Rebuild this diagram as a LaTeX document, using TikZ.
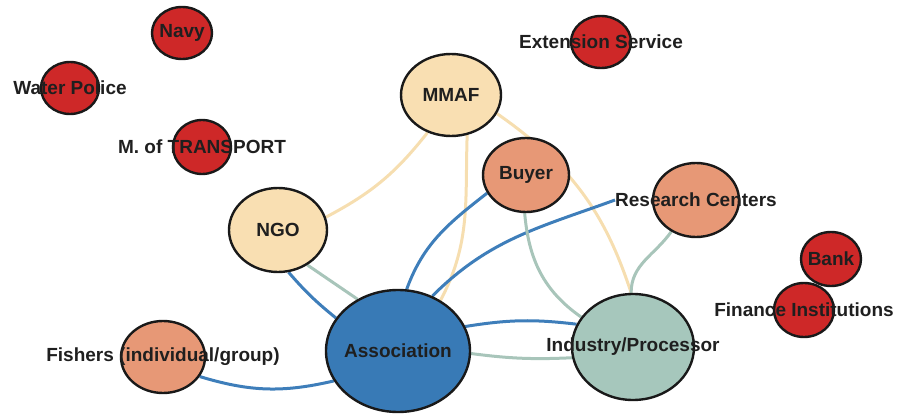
\documentclass[tikz,border=0pt]{standalone}
\usepackage{fontspec}
\setmainfont{Liberation Sans}
\usetikzlibrary{shapes.geometric,backgrounds}
\definecolor{nred}{RGB}{206,40,40}
\definecolor{nbeige}{RGB}{249,223,178}
\definecolor{nsalmon}{RGB}{231,152,118}
\definecolor{nblue}{RGB}{56,122,182}
\definecolor{ngreen}{RGB}{166,199,188}
\definecolor{eblue}{RGB}{62,126,186}
\definecolor{ebeige}{RGB}{246,222,176}
\definecolor{egreen}{RGB}{168,197,186}
\begin{document}
\begin{tikzpicture}[x=1pt,y=-1pt,
  nd/.style={ellipse, draw=black!90, line width=2.4pt, inner sep=0pt},
  lbl/.style={font=\fontsize{19}{22}\selectfont\bfseries, text=black!88, inner sep=0pt},
  eb/.style={line width=3pt, draw=eblue},
  ee/.style={line width=3pt, draw=ebeige},
  eg/.style={line width=3pt, draw=egreen}]
\useasboundingbox (0,0) rectangle (900,414);
\node[nd, fill=nred, minimum width=60pt, minimum height=52pt, label={[lbl,name=navyl]center:Navy}] (navy) at (182,33) {};
\node[nd, fill=nred, minimum width=58pt, minimum height=52pt, label={[lbl,name=wpoll]center:Water Police}] (wpol) at (70,88) {};
\node[nd, fill=nred, minimum width=58pt, minimum height=54pt, label={[lbl,name=motl]center:M. of TRANSPORT}] (mot) at (202,147) {};
\node[nd, fill=nred, minimum width=60pt, minimum height=52pt, label={[lbl,name=extl]center:Extension Service}] (ext) at (601,42) {};
\node[nd, fill=nbeige, minimum width=100pt, minimum height=82pt, label={[lbl,name=mmafl]center:MMAF}] (mmaf) at (451,95) {};
\node[nd, fill=nsalmon, minimum width=86pt, minimum height=74pt, label={[lbl,name=buyerl]center:Buyer}] (buyer) at (526,175) {};
\node[nd, fill=nbeige, minimum width=98pt, minimum height=84pt, label={[lbl,name=ngol]center:NGO}] (ngo) at (278,230) {};
\node[nd, fill=nblue, minimum width=144pt, minimum height=122pt, label={[lbl,name=assocl]center:Association}] (assoc) at (398,351) {};
\node[nd, fill=ngreen, minimum width=122pt, minimum height=106pt, label={[lbl,name=indl]center:Industry/Processor}] (ind) at (633,347) {};
\node[nd, fill=nsalmon, minimum width=86pt, minimum height=74pt, label={[lbl,name=resl]center:Research Centers}] (res) at (696,200) {};
\node[nd, fill=nred, minimum width=60pt, minimum height=54pt, label={[lbl,name=bankl]center:Bank}] (bank) at (831,259) {};
\node[nd, fill=nred, minimum width=60pt, minimum height=54pt, label={[lbl,name=finl]center:Finance Institutions}] (fin) at (804,310) {};
\node[nd, fill=nsalmon, minimum width=84pt, minimum height=72pt, label={[lbl,name=fishl]center:Fishers (individual/group)}] (fish) at (163,357) {};
\begin{scope}[on background layer]
  \draw[ee] (ngo.15) to[bend right=12] (mmaf.238);
  \draw[ee] (assoc.50) to[out=62, in=-92] (mmaf.292);
  \draw[ee] (mmaf.-22) to[out=-35, in=108] (ind.92);
  \draw[eb] (ngo.-76) to[bend right=5] (assoc.152);
  \draw[eg] (ngo.-50) -- (assoc.128);
  \draw[eb] (assoc.82) to[out=70, in=218] (buyer.205);
  \draw[eb] (assoc.58) to[out=45, in=200] (resl.west);
  \draw[eg] (buyer.-92) to[out=-85, in=145] (ind.150);
  \draw[eg] (res.-128) to[out=-125, in=90] (ind.92);
  \draw[eb] (assoc.20) to[bend left=8] (ind.158);
  \draw[eg] (assoc.-2) to[bend right=5] (ind.190);
  \draw[eb] (fish.-28) to[bend right=15] (assoc.205);
\end{scope}
\end{tikzpicture}
\end{document}
